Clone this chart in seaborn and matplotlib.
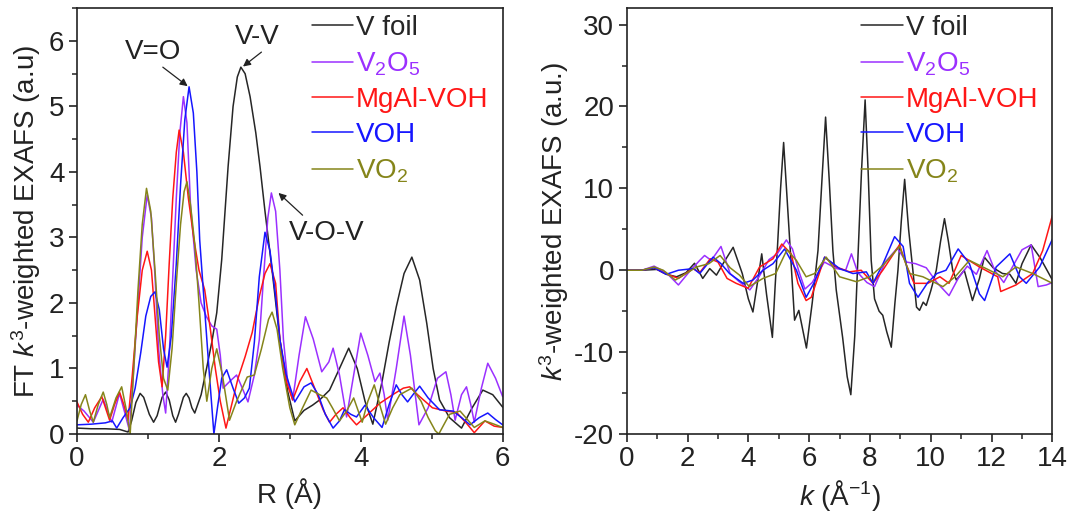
import numpy as np
import pandas as pd
import matplotlib
matplotlib.use("Agg")
import matplotlib.pyplot as plt
from matplotlib.ticker import MultipleLocator
import seaborn as sns

# ---------------- data: R-space (FT magnitude) ----------------
R_foil = [0.0, 0.2, 0.4, 0.6, 0.72, 0.77, 0.83, 0.89, 0.94, 1.02, 1.08, 1.13, 1.2, 1.25, 1.3,
          1.35, 1.39, 1.43, 1.5, 1.54, 1.58, 1.62, 1.66, 1.75, 1.83, 1.9, 1.97, 2.04, 2.13, 2.2,
          2.26, 2.31, 2.37, 2.44, 2.52, 2.58, 2.65, 2.75, 2.86, 2.97, 3.07, 3.2, 3.32, 3.42, 3.56,
          3.7, 3.83, 3.95, 4.06, 4.17, 4.3, 4.4, 4.5, 4.61, 4.72, 4.83, 4.93, 5.02, 5.11, 5.25,
          5.42, 5.57, 5.72, 5.86, 6.0]
FT_foil = [0.09, 0.08, 0.08, 0.07, 0.03, 0.2, 0.48, 0.62, 0.56, 0.3, 0.18, 0.28, 0.56, 0.64, 0.52,
           0.28, 0.18, 0.3, 0.56, 0.62, 0.55, 0.4, 0.32, 0.6, 1.02, 1.4, 1.85, 2.66, 4.08, 5.0,
           5.45, 5.6, 5.5, 5.15, 4.6, 4.08, 3.4, 2.5, 1.44, 0.65, 0.2, 0.36, 0.44, 0.52, 0.67,
           1.0, 1.31, 1.0, 0.5, 0.15, 0.8, 1.4, 1.94, 2.45, 2.7, 2.35, 1.69, 1.0, 0.52, 0.25,
           0.09, 0.4, 0.67, 0.6, 0.41]

R_v2o5 = [0.0, 0.1, 0.23, 0.37, 0.49, 0.6, 0.68, 0.74, 0.8, 0.86, 0.92, 0.99, 1.05, 1.1, 1.15,
          1.21, 1.25, 1.3, 1.35, 1.4, 1.45, 1.5, 1.55, 1.6, 1.68, 1.75, 1.82, 1.9, 1.97, 2.02,
          2.06, 2.15, 2.25, 2.33, 2.41, 2.5, 2.57, 2.63, 2.69, 2.74, 2.8, 2.86, 2.91, 2.97, 3.04,
          3.13, 3.22, 3.33, 3.45, 3.55, 3.61, 3.7, 3.8, 3.9, 4.0, 4.1, 4.2, 4.27, 4.33, 4.38,
          4.5, 4.61, 4.7, 4.82, 4.95, 5.08, 5.2, 5.27, 5.33, 5.42, 5.49, 5.55, 5.6, 5.7, 5.79,
          5.9, 6.0]
FT_v2o5 = [0.44, 0.35, 0.18, 0.53, 0.18, 0.62, 0.3, 0.05, 1.0, 2.0, 3.0, 3.65, 3.3, 2.4, 1.3,
           0.6, 0.32, 1.2, 2.4, 3.6, 4.6, 5.15, 4.75, 3.5, 2.5, 2.0, 1.8, 1.65, 1.6, 1.2,
           0.7, 0.8, 0.9, 0.7, 0.49, 0.9, 1.44, 2.4, 3.3, 3.68, 3.4, 2.5, 1.44, 0.8, 0.52,
           1.2, 1.79, 1.45, 0.95, 1.1, 1.31, 0.9, 0.26, 0.9, 1.54, 1.2, 0.8, 0.93, 0.6, 0.21,
           1.0, 1.8, 1.2, 0.14, 0.4, 0.85, 0.95, 0.6, 0.21, 0.6, 0.72, 0.45, 0.18, 0.7, 1.08,
           0.85, 0.57]

R_mgal = [0.0, 0.08, 0.16, 0.25, 0.35, 0.46, 0.53, 0.6, 0.66, 0.72, 0.78, 0.85, 0.92, 0.99, 1.05,
          1.1, 1.15, 1.2, 1.25, 1.3, 1.35, 1.4, 1.44, 1.5, 1.57, 1.65, 1.72, 1.8, 1.88, 1.95,
          2.02, 2.1, 2.17, 2.27, 2.37, 2.47, 2.57, 2.65, 2.72, 2.8, 2.86, 2.95, 3.04, 3.14, 3.24,
          3.35, 3.47, 3.56, 3.65, 3.75, 3.85, 3.94, 4.1, 4.27, 4.45, 4.6, 4.69, 4.8, 5.01, 5.2,
          5.35, 5.5, 5.6, 5.75, 5.88, 6.0]
FT_mgal = [0.49, 0.3, 0.18, 0.4, 0.57, 0.21, 0.45, 0.64, 0.45, 0.21, 0.9, 1.8, 2.5, 2.79, 2.5,
           1.8, 1.1, 0.72, 1.5, 2.6, 3.6, 4.3, 4.64, 4.3, 3.6, 2.96, 2.5, 2.2, 1.6, 1.0,
           0.5, 0.09, 0.4, 0.85, 1.18, 1.55, 2.1, 2.45, 2.6, 2.3, 1.44, 0.8, 0.52, 0.8, 1.0,
           0.7, 0.37, 0.18, 0.3, 0.4, 0.25, 0.14, 0.3, 0.47, 0.6, 0.7, 0.72, 0.6, 0.4, 0.35,
           0.33, 0.15, 0.02, 0.2, 0.12, 0.1]

R_voh = [0.0, 0.2, 0.4, 0.5, 0.56, 0.65, 0.75, 0.82, 0.9, 0.97, 1.04, 1.1, 1.16, 1.22, 1.27,
         1.33, 1.4, 1.46, 1.52, 1.58, 1.64, 1.69, 1.73, 1.8, 1.86, 1.93, 1.98, 2.04, 2.11, 2.2,
         2.28, 2.36, 2.43, 2.5, 2.57, 2.65, 2.72, 2.8, 2.86, 2.95, 3.07, 3.2, 3.3, 3.4, 3.5,
         3.61, 3.7, 3.77, 3.86, 3.94, 4.06, 4.18, 4.3, 4.4, 4.5, 4.58, 4.66, 4.75, 4.83, 4.95,
         5.11, 5.3, 5.42, 5.54, 5.67, 5.79, 5.9, 6.0]
FT_voh = [0.14, 0.15, 0.17, 0.2, 0.09, 0.25, 0.4, 0.7, 1.25, 1.8, 2.1, 2.17, 1.9, 1.3, 1.02,
          1.5, 2.6, 3.8, 4.8, 5.3, 4.9, 4.0, 2.96, 1.9, 1.0, 0.0, 0.4, 0.85, 0.98, 0.7,
          0.47, 0.55, 0.7, 1.4, 2.4, 3.08, 2.8, 2.1, 1.44, 0.9, 0.49, 0.72, 0.78, 0.6, 0.3,
          0.09, 0.2, 0.37, 0.3, 0.26, 0.44, 0.25, 0.1, 0.45, 0.75, 0.6, 0.49, 0.62, 0.73, 0.55,
          0.37, 0.35, 0.25, 0.14, 0.25, 0.32, 0.22, 0.14]

R_vo2 = [0.0, 0.06, 0.12, 0.18, 0.23, 0.3, 0.37, 0.42, 0.46, 0.55, 0.63, 0.69, 0.75, 0.8, 0.86,
         0.92, 0.98, 1.04, 1.1, 1.16, 1.22, 1.28, 1.34, 1.4, 1.46, 1.51, 1.55, 1.6, 1.66, 1.72,
         1.78, 1.83, 1.9, 1.97, 2.05, 2.15, 2.25, 2.4, 2.5, 2.6, 2.7, 2.75, 2.82, 2.9, 3.0,
         3.07, 3.18, 3.3, 3.42, 3.52, 3.6, 3.7, 3.8, 3.9, 4.02, 4.1, 4.19, 4.28, 4.35, 4.45,
         4.55, 4.72, 4.85, 4.95, 5.05, 5.1, 5.25, 5.4, 5.6, 5.75, 5.88, 6.0]
FT_vo2 = [0.2, 0.45, 0.6, 0.35, 0.18, 0.45, 0.64, 0.45, 0.25, 0.55, 0.72, 0.4, 0.0, 1.0, 2.2,
          3.2, 3.75, 3.4, 2.5, 1.5, 0.85, 0.67, 1.3, 2.3, 3.2, 3.7, 3.85, 3.5, 2.9, 2.0,
          1.0, 0.5, 1.0, 1.3, 0.9, 0.21, 0.5, 0.87, 0.9, 1.3, 1.75, 1.86, 1.6, 1.0, 0.4,
          0.14, 0.4, 0.67, 0.6, 0.55, 0.4, 0.2, 0.35, 0.55, 0.18, 0.5, 0.75, 0.4, 0.15, 0.4,
          0.6, 0.7, 0.5, 0.25, 0.05, 0.0, 0.3, 0.35, 0.1, 0.2, 0.15, 0.1]

# ---------------- data: k-space (k^3 chi) ----------------
k_foil = [0, 0.5, 1.0, 1.3, 1.64, 1.95, 2.23, 2.5, 2.73, 2.95, 3.2, 3.5, 3.8, 4.0, 4.15,
          4.3, 4.44, 4.6, 4.79, 4.88, 4.96, 5.06, 5.16, 5.27, 5.38, 5.52, 5.66, 5.91, 6.1, 6.29,
          6.42, 6.54, 6.66, 6.78, 6.89, 7.1, 7.25, 7.37, 7.5, 7.6, 7.72, 7.84, 7.94, 8.04, 8.15,
          8.3, 8.42, 8.55, 8.7, 8.82, 8.92, 9.03, 9.14, 9.27, 9.41, 9.53, 9.63, 9.75, 9.85, 10.0,
          10.18, 10.32, 10.45, 10.58, 10.72, 10.84, 11.1, 11.37, 11.6, 11.76, 12.05, 12.36, 12.6, 12.8, 13.0,
          13.3, 13.6, 14.0]
chi_foil = [0, 0, 0.1, -0.5, -0.8, -0.3, 0.85, -1.0, 0.2, -0.6, 1.0, 2.8, -0.4, -3.5, -5.1,
            -1.5, 2.0, -3.0, -8.2, -2.0, 3.0, 10.0, 15.6, 9.0, 2.4, -6.1, -4.9, -9.5, -4.0, 2.4,
            11.0, 18.7, 11.0, 2.4, -2.4, -8.2, -13.0, -15.2, -8.0, 1.2, 12.0, 20.8, 12.0, 1.2, -3.5,
            -5.0, -5.5, -7.5, -9.4, -4.0, 0.0, 6.0, 11.1, 5.0, 0.0, -4.5, -4.9, -3.9, -4.3, -2.5,
            0.0, 3.5, 6.3, 3.5, 0.0, -1.2, 0.0, -3.7, -1.0, 1.6, 0.3, -0.4, -0.5, -1.6, 0.8,
            3.1, 1.5, -1.2]

k_v2o5 = [0, 0.5, 0.9, 1.3, 1.7, 2.1, 2.4, 2.56, 2.78, 3.1, 3.4, 3.7, 4.05, 4.35, 4.68,
          4.95, 5.25, 5.45, 5.65, 5.86, 6.1, 6.5, 6.9, 7.2, 7.39, 7.6, 7.9, 8.15, 8.5, 8.9,
          9.2, 9.5, 9.85, 10.2, 10.6, 10.9, 11.2, 11.5, 11.85, 12.1, 12.4, 12.7, 13.0, 13.3, 13.53,
          13.8, 14.0]
chi_v2o5 = [0, 0, 0.5, -0.3, -1.8, 0, 1.2, 1.8, 1.2, 2.9, -0.4, -1.4, -2.4, -0.8, 1.3,
            2.0, 3.7, 2.6, 0, -2.3, -1.5, 1.0, 0.2, 0, 2.0, -0.3, -1.5, -2.0, 1.0, 2.7,
            1.0, 0.8, 0.3, -1.5, -3.1, -1.0, 0.5, -0.5, 2.4, 0, -1.5, 0.5, 2.5, 3.1, -2.0,
            -1.8, -1.5]

k_mgal = [0, 0.5, 0.9, 1.2, 1.7, 2.18, 2.4, 2.75, 3.0, 3.3, 3.6, 3.99, 4.37, 4.81, 5.1,
          5.41, 5.63, 5.9, 6.07, 6.51, 6.89, 7.33, 7.71, 8.1, 8.42, 8.97, 9.18, 9.45, 9.9, 10.3,
          10.6, 11.0, 11.6, 12.2, 12.3, 12.8, 13.35, 13.68, 14.0]
chi_mgal = [0, 0, 0.3, -0.3, -1.0, 0.2, -0.3, 1.4, 1.0, -1.0, -1.6, -2.2, 0.4, 1.4, 3.2,
            2.0, -1.6, -3.7, -3.3, 1.6, 0.4, -0.2, 0, -1.6, 0, 3.1, 0.8, -1.6, -1.6, -0.8,
            -1.6, 1.8, 0.4, -0.8, -2.6, -1.8, -0.4, 2.4, 6.7]

k_voh = [0, 0.5, 0.9, 1.3, 1.7, 2.2, 2.4, 2.84, 3.1, 3.38, 3.83, 4.15, 4.48, 4.81, 5.19,
         5.58, 5.9, 6.18, 6.51, 7.0, 7.44, 7.88, 8.1, 8.43, 8.81, 9.09, 9.3, 9.58, 9.9, 10.2,
         10.5, 10.9, 11.27, 11.6, 11.77, 12.15, 12.6, 12.92, 13.14, 13.58, 14.0]
chi_voh = [0, 0, 0.3, -0.5, 0, 0.2, -0.4, 1.6, 0.8, -0.4, -1.6, -1.2, 0, 0.8, 2.6,
           0, -3.3, -1.4, 1.6, 0.2, -0.4, -0.2, -1.6, 0.8, 4.1, 2.9, -1.6, -3.3, -1.5, -0.4,
           0, 2.6, 0.8, -2.9, -3.7, 0.4, 2.0, -0.8, -1.6, 0.4, 3.8]

k_vo2 = [0, 0.5, 0.9, 1.2, 1.6, 2.0, 2.3, 2.7, 3.07, 3.4, 3.71, 4.03, 4.48, 4.9, 5.27,
         5.58, 5.9, 6.18, 6.56, 7.0, 7.55, 7.99, 8.43, 8.97, 9.3, 9.74, 10.4, 10.8, 11.27, 11.93,
         12.37, 12.8, 13.35, 14.0]
chi_vo2 = [0, 0, 0.4, 0, -1.2, -0.3, 0.4, 0.8, 1.8, 0.3, -0.6, -2.0, -1.0, -0.4, 2.5,
           1.2, -0.8, -0.4, 1.6, -0.8, -1.4, -0.8, 0.6, 2.9, -0.4, -0.8, -2.0, -0.8, 1.2, 0,
           -0.8, 0.4, -0.4, -1.6]

names = ["V foil", "V$_2$O$_5$", "MgAl-VOH", "VOH", "VO$_2$"]
colors = ["#262626", "#9b30ff", "#ff1616", "#1616ff", "#85851a"]

# ---------------- style ----------------
sns.set_theme(style="ticks")
plt.rcParams["font.family"] = ["Liberation Sans", "DejaVu Sans"]
plt.rcParams["mathtext.fontset"] = "custom"
plt.rcParams["mathtext.rm"] = "Liberation Sans"
plt.rcParams["mathtext.it"] = "Liberation Sans:italic"
plt.rcParams["mathtext.bf"] = "Liberation Sans:bold"
plt.rcParams["axes.edgecolor"] = "#222222"
plt.rcParams["axes.linewidth"] = 1.2
plt.rcParams["axes.unicode_minus"] = False

fs = 20


def long_frame(xs, ys, xname, yname):
    parts = []
    for nm, x, y in zip(names, xs, ys):
        parts.append(pd.DataFrame({xname: x, yname: y, "sample": nm}))
    return pd.concat(parts, ignore_index=True)


df_r = long_frame([R_foil, R_v2o5, R_mgal, R_voh, R_vo2],
                  [FT_foil, FT_v2o5, FT_mgal, FT_voh, FT_vo2], "R", "FT")
df_k = long_frame([k_foil, k_v2o5, k_mgal, k_voh, k_vo2],
                  [chi_foil, chi_v2o5, chi_mgal, chi_voh, chi_vo2], "k", "chi")

fig = plt.figure(figsize=(10.75, 5.13), dpi=100)
ax1 = fig.add_axes([0.0716, 0.154, 0.396, 0.830])
ax2 = fig.add_axes([0.583, 0.154, 0.396, 0.830])

palette = dict(zip(names, colors))
sns.lineplot(data=df_r, x="R", y="FT", hue="sample", hue_order=names, palette=palette,
             estimator=None, sort=False, lw=1.1, ax=ax1)
sns.lineplot(data=df_k, x="k", y="chi", hue="sample", hue_order=names, palette=palette,
             estimator=None, sort=False, lw=1.1, ax=ax2)


def style_axis(ax, xlim, ylim, xmaj, xmin, ymaj, ymin):
    ax.set_xlim(*xlim)
    ax.set_ylim(*ylim)
    ax.xaxis.set_major_locator(MultipleLocator(xmaj))
    ax.xaxis.set_minor_locator(MultipleLocator(xmin))
    ax.yaxis.set_major_locator(MultipleLocator(ymaj))
    ax.yaxis.set_minor_locator(MultipleLocator(ymin))
    ax.tick_params(which="major", direction="out", length=6, width=1.2,
                   labelsize=fs, colors="#222222", pad=3)
    ax.tick_params(which="minor", direction="out", length=3.5, width=1.1, colors="#222222")
    for sp in ax.spines.values():
        sp.set_visible(True)
        sp.set_linewidth(1.2)
    handles, labels = ax.get_legend_handles_labels()
    leg = ax.legend(handles, labels, loc="upper left", bbox_to_anchor=(0.535, 1.0),
                    frameon=False, fontsize=fs, handlelength=1.5, handletextpad=0.1,
                    labelspacing=0.33, borderaxespad=0, borderpad=0.25)
    for txt, c in zip(leg.get_texts(), colors):
        txt.set_color(c)
    for ln in leg.get_lines():
        ln.set_linewidth(1.1)


style_axis(ax1, (0, 6), (0, 6.5), 2, 1, 1, 0.5)
style_axis(ax2, (0, 14), (-20, 32), 2, 1, 10, 5)

ax1.set_xlabel("R (Å)", fontsize=fs, color="#222222")
ax1.set_ylabel("FT $k^3$-weighted EXAFS (a.u)", fontsize=fs, color="#222222", labelpad=4)
ax2.set_xlabel("$k$ (Å$^{-1}$)", fontsize=fs, color="#222222")
ax2.set_ylabel("$k^3$-weighted EXAFS (a.u.)", fontsize=fs, color="#222222", labelpad=2)

# peak assignments
arrow_kw = dict(arrowstyle="-|>", color="#222222", lw=0.9, mutation_scale=11,
                shrinkA=0, shrinkB=0)
ax1.text(1.07, 5.83, "V=O", fontsize=fs, ha="center", va="center", color="#222222")
ax1.annotate("", xy=(1.56, 5.31), xytext=(1.21, 5.6), arrowprops=arrow_kw)
ax1.text(2.54, 6.06, "V-V", fontsize=fs, ha="center", va="center", color="#222222")
ax1.annotate("", xy=(2.34, 5.61), xytext=(2.6, 5.83), arrowprops=arrow_kw)
ax1.text(3.52, 3.07, "V-O-V", fontsize=fs, ha="center", va="center", color="#222222")
ax1.annotate("", xy=(2.84, 3.68), xytext=(3.18, 3.34), arrowprops=arrow_kw)

fig.savefig("out.png", dpi=100)
